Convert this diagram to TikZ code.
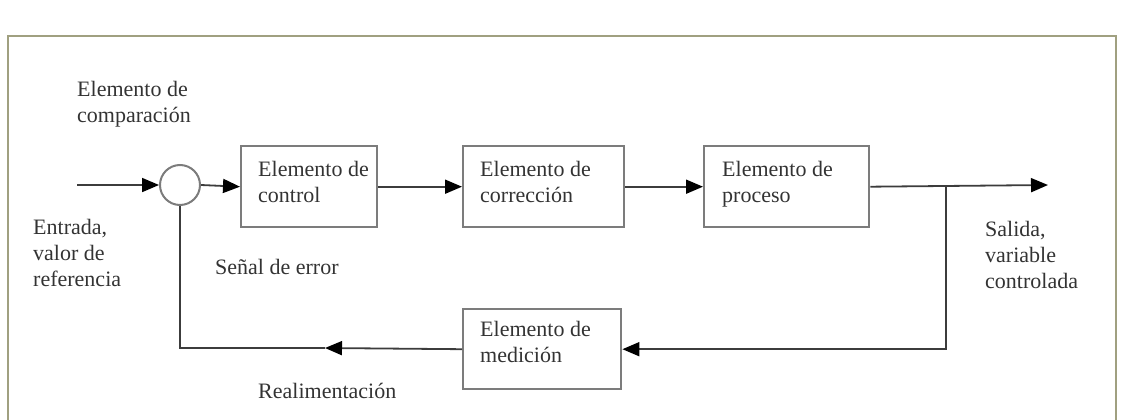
\documentclass[tikz,border=0pt]{standalone}
\usepackage{fontspec}
\setmainfont{Liberation Serif}
\usetikzlibrary{arrows.meta}
\definecolor{ink}{HTML}{333333}
\definecolor{wirecol}{HTML}{3c3c3c}
\definecolor{boxedge}{HTML}{7c7c7c}
\definecolor{framecol}{HTML}{a0a080}
\begin{document}
\begin{tikzpicture}[x=1pt,y=-1pt,
  blk/.style={draw=boxedge, line width=2.4pt, anchor=north west, inner sep=0pt},
  lbl/.style={anchor=north west, align=left, inner sep=0pt, text=ink,
              font=\fontsize{22}{26}\selectfont},
  wire/.style={draw=wirecol, line width=1.8pt},
  arr/.style={wire, -{Triangle[length=17pt,width=14pt,color=black]}}
]
\useasboundingbox (0,0) rectangle (1124,420);
% frame
\draw[framecol, line width=1.6pt] (8,421) -- (8,36) -- (1116,36) -- (1116,421);

% blocks
\node[blk, minimum width=136pt, minimum height=81pt] (ctrl) at (240,145) {};
\node[blk, minimum width=161pt, minimum height=81pt] (corr) at (462,145) {};
\node[blk, minimum width=165pt, minimum height=81pt] (proc) at (703,145) {};
\node[blk, minimum width=158pt, minimum height=80pt] (meas) at (462,308) {};
\node[draw=boxedge, line width=2pt, circle, minimum size=40pt, inner sep=0pt] (cmp) at (180,185) {};

% block texts
\node[lbl] (tctrl) at (258,161) {Elemento de\\control};
\node[lbl] (tcorr) at (480,161) {Elemento de\\corrección};
\node[lbl] (tproc) at (722,161) {Elemento de\\proceso};
\node[lbl] (tmeas) at (480,321) {Elemento de\\medición};

% free labels
\node[lbl] (lcmp) at (77,81) {Elemento de\\comparación};
\node[lbl] (lin) at (33,219) {Entrada,\\valor de\\referencia};
\node[lbl] (lerr) at (215,259) {Señal de error};
\node[lbl] (lfb) at (258,383) {Realimentación};
\node[lbl] (lout) at (985,221) {Salida,\\variable\\controlada};

% coordinates
\coordinate (in) at (77,185);
\coordinate (out) at (1048,185);
\coordinate (branch) at (946,185);
\coordinate (fbmid) at (325,348);

% connectors
\draw[arr] (in) -- (cmp.west);
\draw[arr] (cmp.east) -- (ctrl.west);
\draw[arr] (ctrl.east) -- (corr.west);
\draw[arr] (corr.east) -- (proc.west);
\draw[arr] (proc.east) -- (out);
\draw[arr] (branch) |- (meas.east);
\draw[arr] (meas.west) -- (fbmid);
\draw[wire] (fbmid) -| (cmp.south);
\end{tikzpicture}
\end{document}
